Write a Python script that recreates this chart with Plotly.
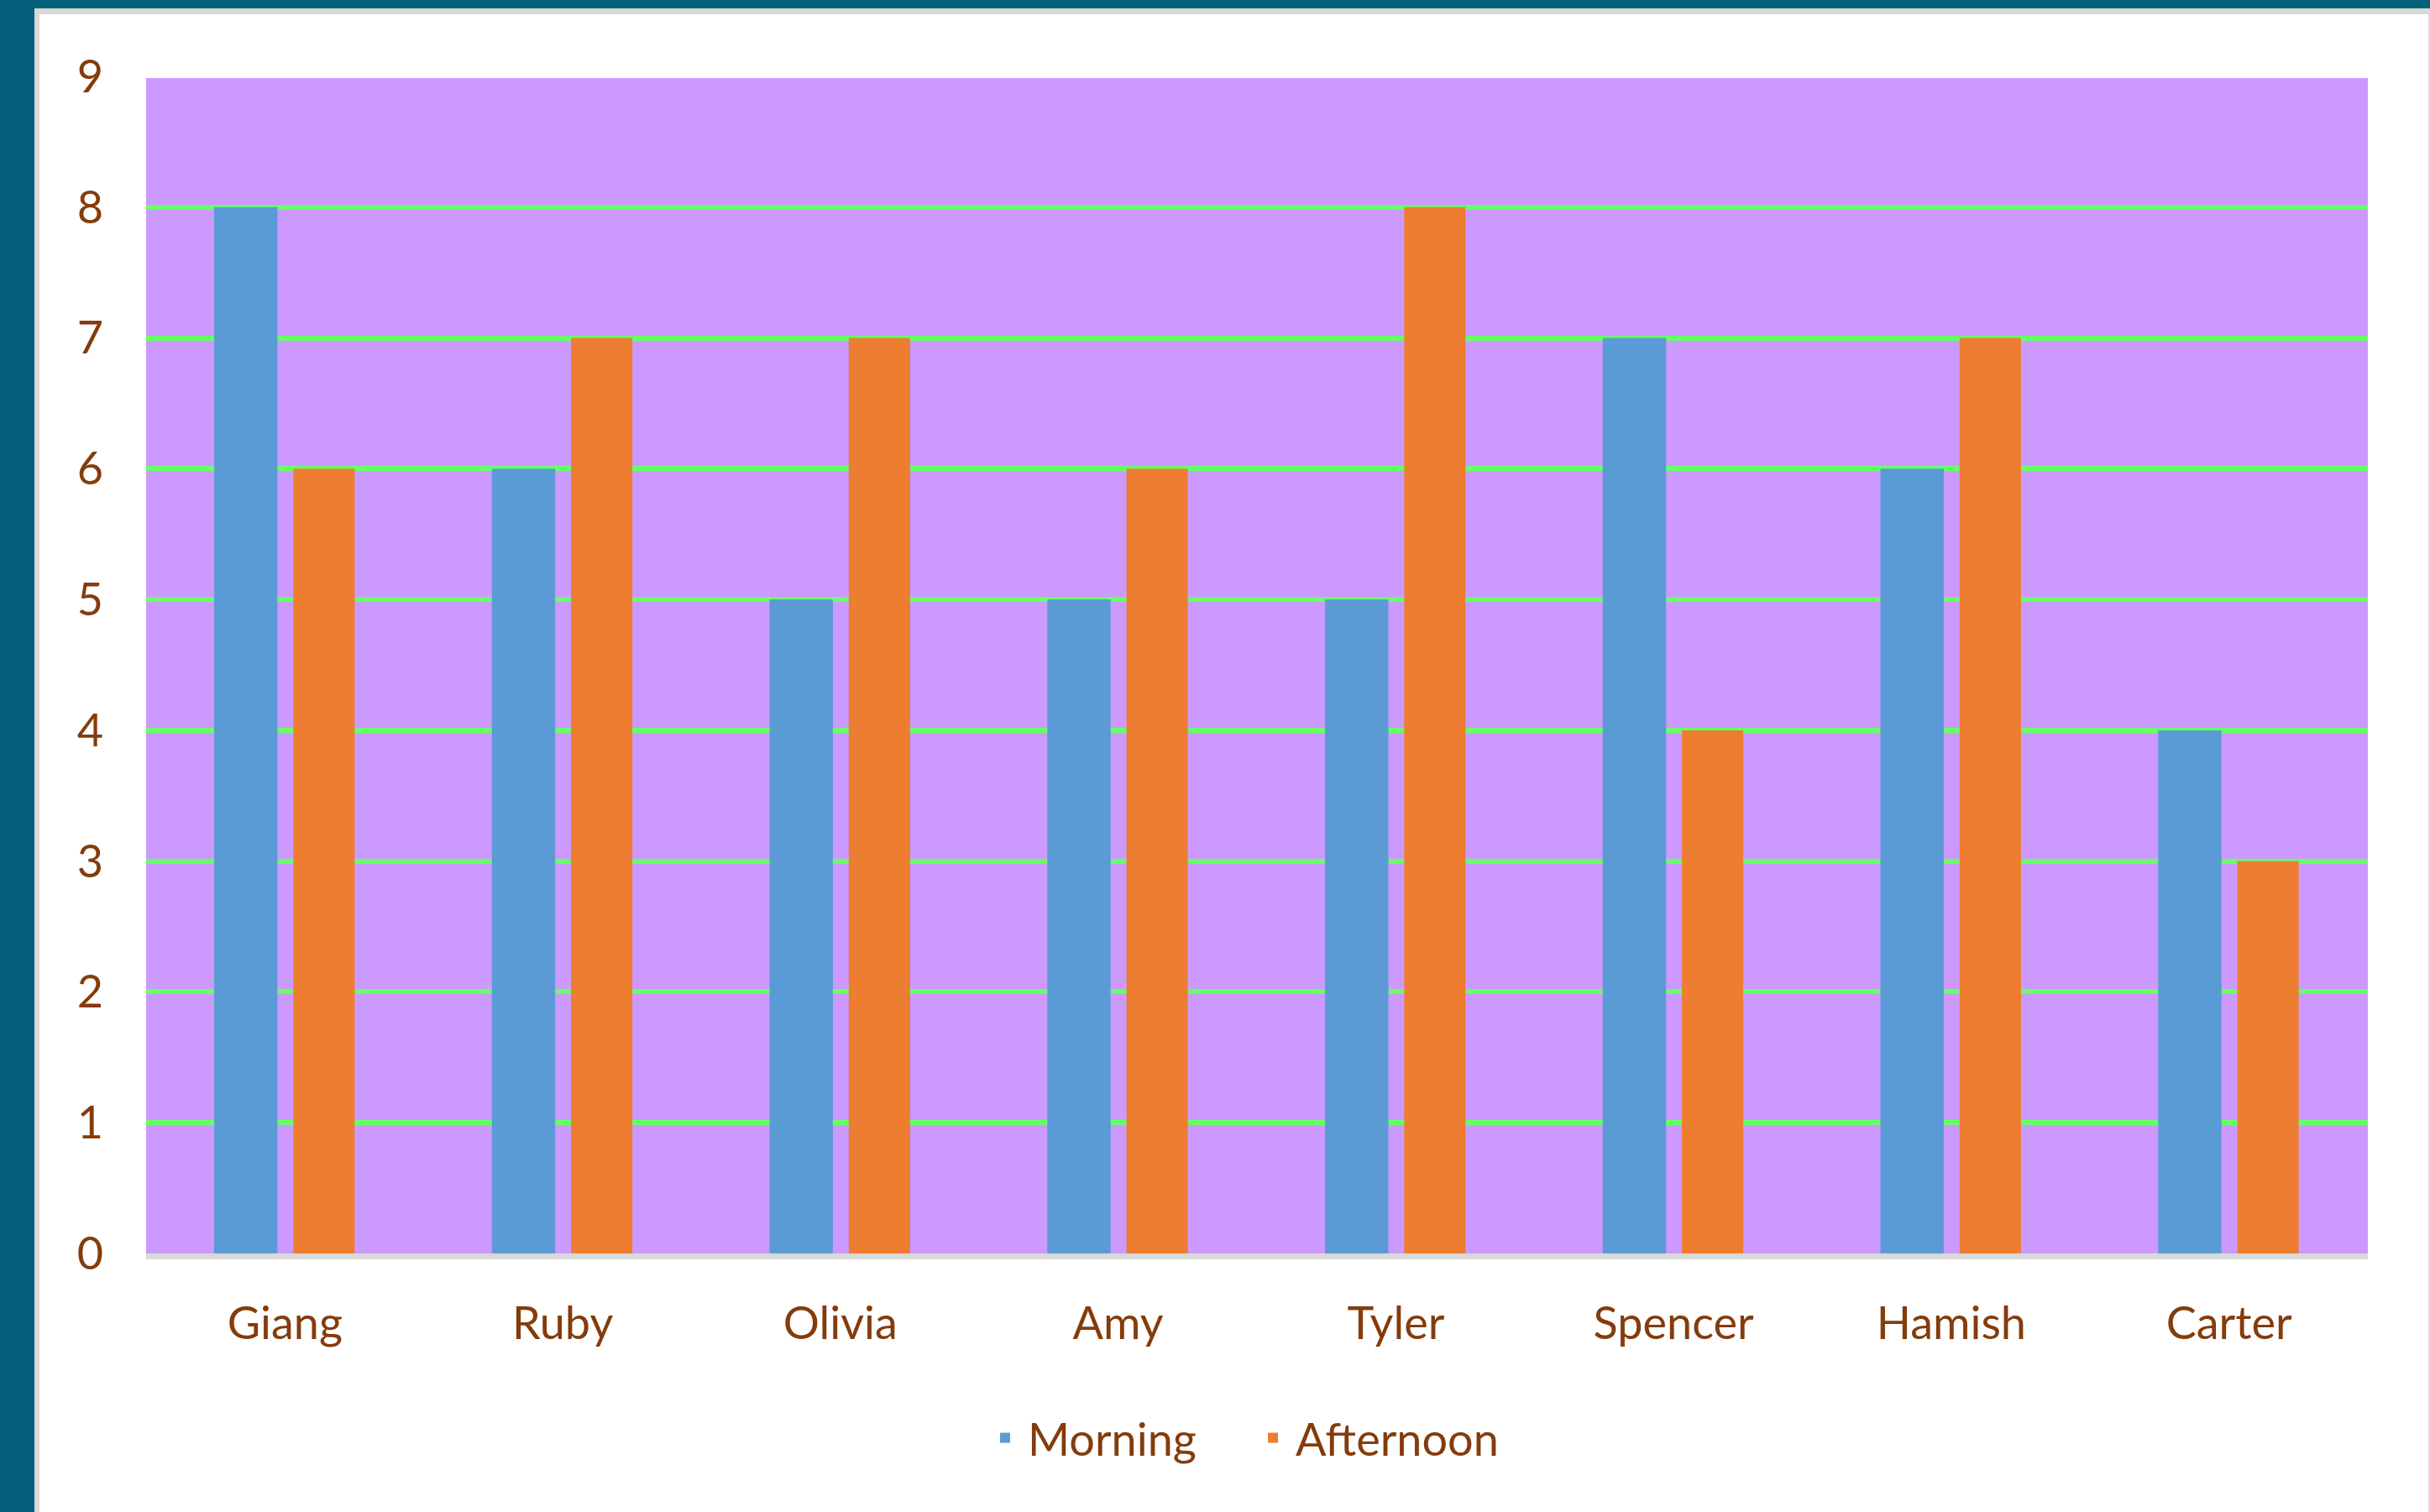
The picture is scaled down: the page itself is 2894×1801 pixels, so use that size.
import plotly.graph_objects as go

names = ["Giang", "Ruby", "Olivia", "Amy", "Tyler", "Spencer", "Hamish", "Carter"]
morning = [8, 6, 5, 5, 5, 7, 6, 4]
afternoon = [6, 7, 7, 6, 8, 4, 7, 3]
y_ticks = [0, 1, 2, 3, 4, 5, 6, 7, 8, 9]

W, H = 2894, 1801
L, R, T, B = 174, 74, 91, 308
PW, PH = W - L - R, H - T - B

def px2x(px):
    return (px - L) / PW

def py2y(py):
    return (H - B - py) / PH

TXT = "#843C0C"
FONT = "Lato"

fig = go.Figure()
fig.add_trace(go.Bar(x=names, y=morning, name="Morning", marker_color="#5B9BD5",
                     marker_line_width=0, offset=-0.255, width=0.228))
fig.add_trace(go.Bar(x=names, y=afternoon, name="Afternoon", marker_color="#ED7D31",
                     marker_line_width=0, offset=0.03, width=0.221))

shapes = [
    dict(type="rect", xref="paper", yref="paper", layer="below",
         x0=px2x(41), x1=px2x(W + 20), y0=py2y(10), y1=py2y(H + 20),
         fillcolor="#D9D9D9", line_width=0),
    dict(type="rect", xref="paper", yref="paper", layer="below",
         x0=px2x(47), x1=px2x(2892), y0=py2y(17), y1=py2y(H + 20),
         fillcolor="#FFFFFF", line_width=0),
    dict(type="rect", xref="paper", yref="paper", layer="below",
         x0=0, x1=1, y0=0, y1=py2y(93),
         fillcolor="#CC99FF", line_width=0),
]

fig.update_layout(
    width=W, height=H,
    margin=dict(l=L, r=R, t=T, b=B, pad=0),
    paper_bgcolor="#04607A",
    plot_bgcolor="rgba(0,0,0,0)",
    barmode="overlay",
    shapes=shapes,
    font=dict(family=FONT, size=54, color=TXT),
    showlegend=True,
    legend=dict(orientation="h", x=px2x(1170), xanchor="left", y=py2y(1713), yanchor="middle",
                font=dict(family=FONT, size=54, color=TXT), bgcolor="rgba(0,0,0,0)",
                itemwidth=44, entrywidth=260, entrywidthmode="pixels", traceorder="normal"),
    xaxis=dict(showgrid=False, showline=True, linecolor="#D9D9D9", linewidth=7,
               ticks="", tickfont=dict(family=FONT, size=54, color=TXT),
               ticklabelstandoff=30, zeroline=False),
    yaxis=dict(range=[0, 9], tickvals=y_ticks, showgrid=True, gridcolor="#66FF66", gridwidth=6,
               showline=False, zeroline=False, ticks="",
               tickfont=dict(family=FONT, size=54, color=TXT), ticklabelstandoff=50),
)

fig.write_html("out.html")
